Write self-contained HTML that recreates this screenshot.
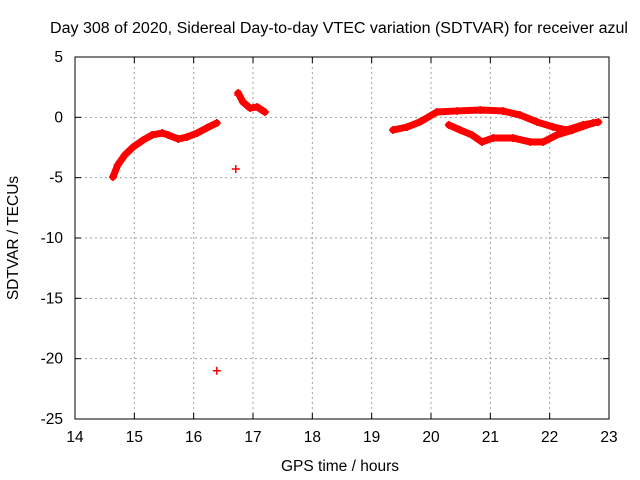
<!DOCTYPE html>
<html><head><meta charset="utf-8"><style>
html,body{margin:0;padding:0;background:#fff}
svg{display:block;font-family:"Liberation Sans",sans-serif;font-size:15.5px}
</style></head><body>
<svg id="chart" width="640" height="480">
<text x="339" y="33" text-anchor="middle" fill="#000" textLength="578" lengthAdjust="spacingAndGlyphs">Day 308 of 2020, Sidereal Day-to-day VTEC variation (SDTVAR) for receiver azul</text>
<text x="340" y="471" text-anchor="middle">GPS time / hours</text>
<text transform="translate(18,238) rotate(-90)" text-anchor="middle">SDTVAR / TECUs</text>
<g id="grid"></g><g id="axes"></g><g id="series"></g>
</svg>
<script>
const xTicks=[14,15,16,17,18,19,20,21,22,23];
const yTicks=[5,0,-5,-10,-15,-20,-25];
const seg1T=[14.64,14.72,14.84,14.98,15.15,15.30,15.47,15.57,15.74,15.89,16.06,16.22,16.39];
const seg1V=[-4.94,-3.95,-3.12,-2.46,-1.88,-1.46,-1.30,-1.46,-1.80,-1.63,-1.30,-0.88,-0.47];
const seg2T=[16.75,16.83,16.95,17.07,17.20];
const seg2V=[2.02,1.27,0.77,0.86,0.44];
const seg3T=[19.36,19.60,19.81,20.10,20.44,20.83,21.21,21.50,21.79,22.06,22.29,22.56,22.82];
const seg3V=[-1.05,-0.80,-0.39,0.44,0.53,0.61,0.53,0.19,-0.39,-0.80,-1.05,-0.63,-0.39];
const seg4T=[20.30,20.49,20.69,20.86,21.05,21.38,21.67,21.89,22.12,22.39,22.73];
const seg4V=[-0.63,-1.05,-1.46,-2.04,-1.71,-1.71,-2.04,-2.04,-1.46,-1.05,-0.47];
const outT=[16.71,16.39,16.75];
const outV=[-4.28,-21.0,1.85];
const X0=75,X1=609,Y0=57,Y1=419;
const xs=t=>X0+(t-14)/(23-14)*(X1-X0);
const ys=v=>Y0+(5-v)/(5-(-25))*(Y1-Y0);
const NS="http://www.w3.org/2000/svg";
function mk(tag,attrs,parent){const e=document.createElementNS(NS,tag);for(const k in attrs)e.setAttribute(k,attrs[k]);parent.appendChild(e);return e;}
const grid=document.getElementById('grid'),axes=document.getElementById('axes'),ser=document.getElementById('series');
xTicks.forEach(t=>{const x=xs(t);
 if(t>14&&t<23){const g=mk('line',{x1:x,x2:x,y1:Y0,y2:Y1,stroke:'#a0a0a0','stroke-dasharray':'2,3'},grid);
 }
 mk('line',{x1:x,x2:x,y1:Y1,y2:Y1-6,stroke:'#000'},axes);mk('line',{x1:x,x2:x,y1:Y0,y2:Y0+6,stroke:'#000'},axes);
 const l=mk('text',{x:x,y:Y1+23,'text-anchor':'middle'},axes);l.textContent=t;
 });
yTicks.forEach(v=>{const y=ys(v);
 if(v<5&&v>-25){const g=mk('line',{x1:X0,x2:X1,y1:y,y2:y,stroke:'#a0a0a0','stroke-dasharray':'2,3'},grid);
 }
 mk('line',{x1:X0,x2:X0+6,y1:y,y2:y,stroke:'#000'},axes);mk('line',{x1:X1,x2:X1-6,y1:y,y2:y,stroke:'#000'},axes);
 const l=mk('text',{x:X0-12,y:y+5,'text-anchor':'end'},axes);l.textContent=v;
 });
const frame=mk('rect',{x:X0,y:Y0,width:X1-X0,height:Y1-Y0,fill:'none',stroke:'#000'},axes);

function plus(t,v){const x=xs(t),y=ys(v);
 const p=mk('path',{d:`M${x-4},${y}h8M${x},${y-4}v8`,stroke:'#f00','stroke-width':1.5},ser);
 }
[[seg1T,seg1V],[seg2T,seg2V],[seg3T,seg3V],[seg4T,seg4V]].forEach(([T,V])=>{
 const pl=mk('polyline',{points:T.map((t,i)=>xs(t)+','+ys(V[i])).join(' '),fill:'none',stroke:'#f00','stroke-width':7,'stroke-linejoin':'round','stroke-linecap':'round'},ser);
 
 T.forEach((t,i)=>plus(t,V[i]));});
outT.forEach((t,i)=>plus(t,outV[i]));
</script>
</body></html>
